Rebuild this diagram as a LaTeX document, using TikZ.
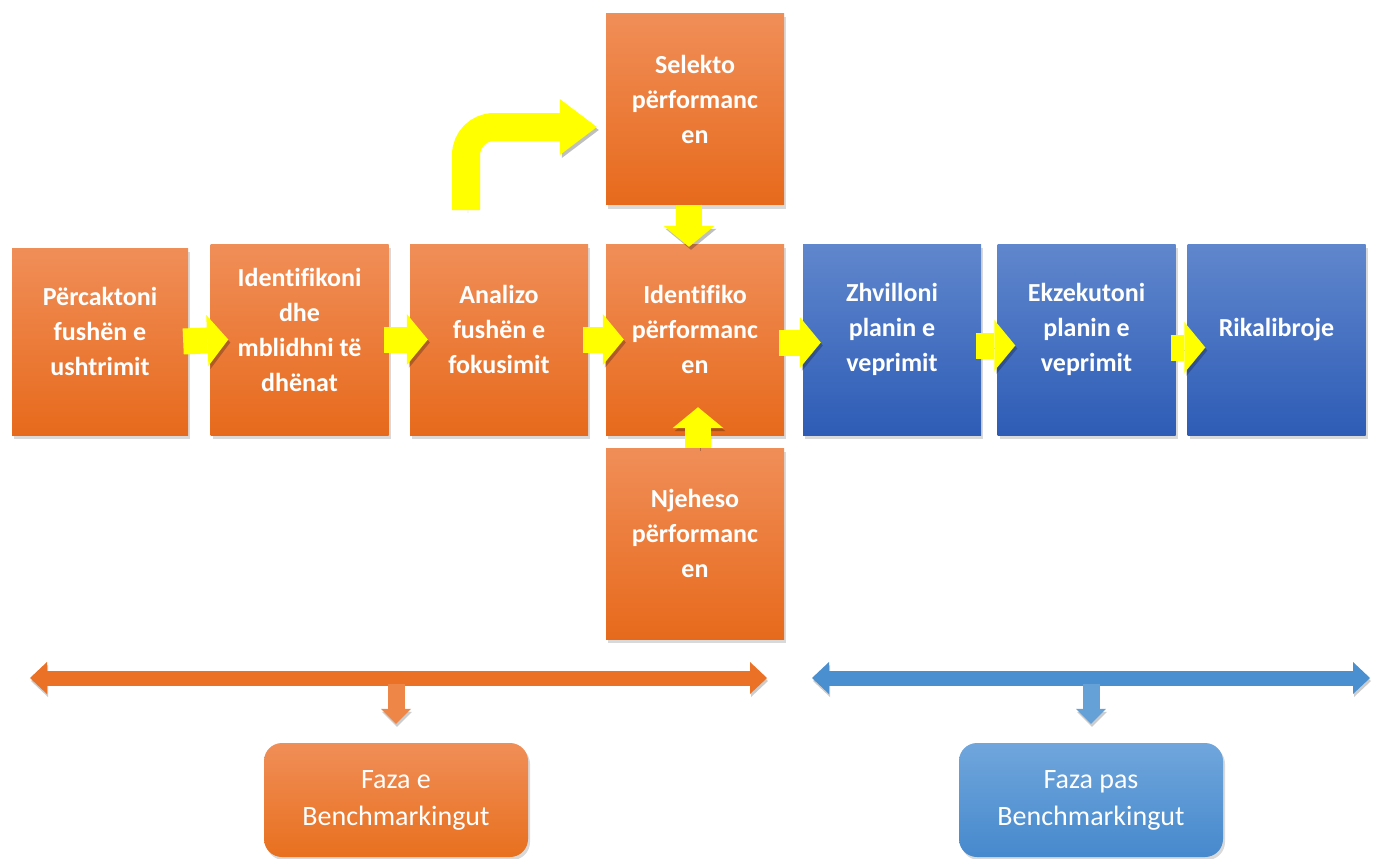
\documentclass[tikz,border=0pt]{standalone}
\usepackage{fontspec}
\setmainfont{Carlito}[Ligatures=CommonOff]
\usetikzlibrary{arrows.meta,shadows}

\definecolor{orTop}{RGB}{240,142,88}
\definecolor{orBot}{RGB}{231,106,28}
\definecolor{blTop}{RGB}{96,135,205}
\definecolor{blBot}{RGB}{46,92,182}
\definecolor{phOTop}{RGB}{240,142,88}
\definecolor{phOBot}{RGB}{232,112,30}
\definecolor{phBTop}{RGB}{112,166,220}
\definecolor{phBBot}{RGB}{70,137,205}
\definecolor{orBar}{RGB}{234,113,37}
\definecolor{blBar}{RGB}{74,143,208}
\definecolor{yel}{RGB}{255,255,0}

\begin{document}
\begin{tikzpicture}[x=1pt,y=-1pt,
    obox/.style={rectangle, minimum width=178pt, minimum height=191pt,
        top color=orTop, bottom color=orBot,
        drop shadow={opacity=0.3, shadow xshift=2pt, shadow yshift=-4pt}},
    bbox/.style={obox, top color=blTop, bottom color=blBot},
    txt/.style={text=white, align=center, font=\bfseries\fontsize{26}{35}\selectfont},
    phase/.style={rectangle, rounded corners=18pt, minimum width=264pt, minimum height=114pt,
        text=white, align=center, font=\fontsize{28}{37}\selectfont,
        drop shadow={opacity=0.3, shadow xshift=2pt, shadow yshift=-3pt}},
    fat/.style={draw=yel, line width=26pt,
        -{Triangle[length=21pt, width=51pt, line width=0pt]},
        preaction={draw=black, opacity=0.25, transform canvas={xshift=2pt, yshift=-3pt}}},
    bar/.style={line width=15pt,
        {Triangle[length=17pt, width=32pt, line width=0pt]}-{Triangle[length=17pt, width=32pt, line width=0pt]},
        preaction={draw=black, opacity=0.2, transform canvas={xshift=1pt, yshift=-3pt}}},
    stem/.style={line width=17pt, -{Triangle[length=15pt, width=30pt, line width=0pt]},
        preaction={draw=black, opacity=0.2, transform canvas={xshift=1pt, yshift=-3pt}}}
]
\useasboundingbox (0,0) rectangle (1373,859);

% boxes of the main row
\node[obox, minimum width=176pt, minimum height=187pt] (b1) at (100,341.5) {};
\node[obox] (b2) at (299.5,339.5) {};
\node[obox] (b3) at (499,339.5) {};
\node[obox] (b4) at (695,339.5) {};
\node[bbox] (b5) at (892,339.5) {};
\node[bbox] (b6) at (1086.5,339.5) {};
\node[bbox] (b7) at (1276.5,339.5) {};
% above and below
\node[obox] (sel) at (695,109) {};
\node[obox] (njh) at (695,543.5) {};

\node[txt] at ([yshift=10pt]b1) {Përcaktoni\\fushën e\\ushtrimit};
\node[txt] at ([yshift=10pt]b2) {Identifikoni\\dhe\\mblidhni të\\dhënat};
\node[txt] at ([yshift=10pt]b3) {Analizo\\fushën e\\fokusimit};
\node[txt] at ([yshift=10pt]b4) {Identifiko\\përformanc\\en};
\node[txt] at ([yshift=10pt]b5) {Zhvilloni\\planin e\\veprimit};
\node[txt] at ([yshift=10pt]b6) {Ekzekutoni\\planin e\\veprimit};
\node[txt] at ([yshift=10pt]b7) {Rikalibroje};
\node[txt] at ([yshift=10pt]sel) {Selekto\\përformanc\\en};
\node[txt] at ([yshift=10pt]njh) {Njeheso\\përformanc\\en};

% yellow arrows
\foreach \a/\b/\dy in {b1/b2/0, b2/b3/0, b3/b4/0, b4/b5/-3, b5/b6/-6, b6/b7/-8}
    \draw[fat] ([xshift=-5pt, yshift=\dy pt]\a.east) -- ([xshift=18pt, yshift=\dy pt]\b.west);
\draw[fat] ([xshift=-6pt]sel.south) -- ([xshift=-6pt, yshift=-3pt]b4.north);
\draw[fat] ([xshift=3pt]njh.north) -- ([xshift=3pt, yshift=28pt]b4.south);
\coordinate (bend) at (466,210);
\draw[fat, line width=28pt, rounded corners=28pt,
    -{Triangle[length=37pt, width=56pt, line width=0pt]}]
    (bend) |- ([xshift=-9pt, yshift=-18pt]sel.west);

% phases
\node[phase, top color=phOTop, bottom color=phOBot] (ph1) at (396,800) {Faza e\\Benchmarkingut};
\node[phase, top color=phBTop, bottom color=phBBot] (ph2) at (1091,800) {Faza pas\\Benchmarkingut};

\coordinate (oL) at (30,678);
\coordinate (oR) at (767,678);
\coordinate (bL) at (812,678);
\coordinate (bR) at (1370,678);
\draw[bar, draw=orBar, fill=orBar] (oL) -- (oR);
\draw[stem, draw=orBar!85!white] ([yshift=-6pt]ph1.north |- oL) -- ([yshift=19pt]ph1.north);
\draw[bar, draw=blBar] (bL) -- (bR);
\draw[stem, draw=blBar!85!white] ([yshift=-6pt]ph2.north |- bL) -- ([yshift=19pt]ph2.north);
\end{tikzpicture}
\end{document}
